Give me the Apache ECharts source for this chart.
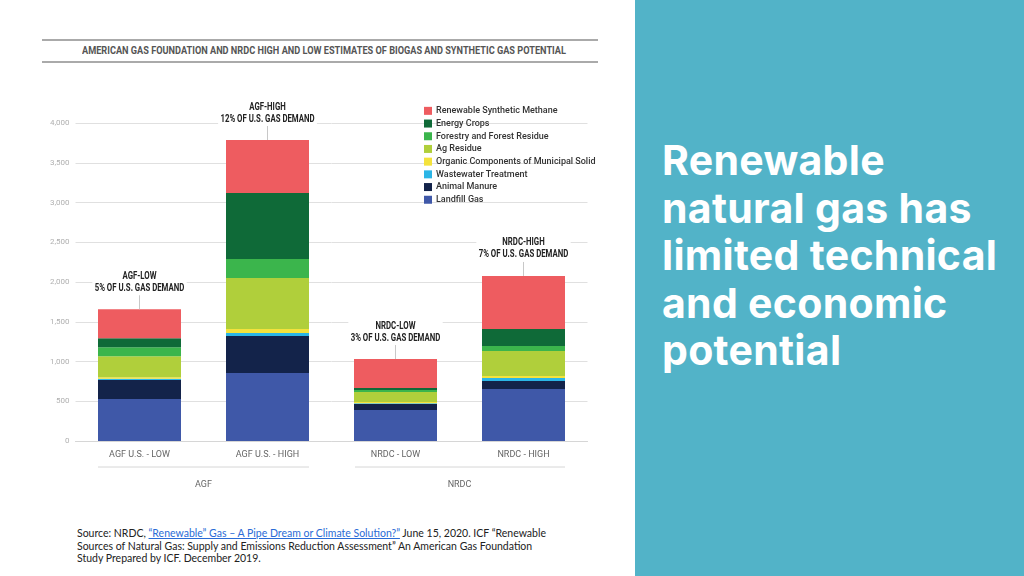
<!DOCTYPE html>
<html>
<head>
<meta charset="utf-8">
<script src="https://cdn.jsdelivr.net/npm/echarts@6/dist/echarts.min.js"></script>
<style>
  html, body { margin:0; padding:0; width:1024px; height:576px; background:#fff; overflow:hidden; }
  #header { position:absolute; left:42px; top:39px; width:556px; height:20px; border-top:2px solid #aaa; border-bottom:2px solid #aaa; overflow:hidden; }
  #header span { position:absolute; left:40px; top:0; white-space:nowrap; transform-origin:0 50%;
    font-family:Roboto,sans-serif; font-weight:bold; font-size:10.5px; color:#555; line-height:20px; }
  #chart { position:absolute; left:40px; top:35px; width:558px; height:480px; overflow:hidden; }
  #source { position:absolute; left:77px; top:527px; font-family:Lato,'Liberation Sans',sans-serif; font-size:10.5px; line-height:12.5px; color:#222; }
  #source a { color:#2a6bd6; text-decoration:underline; }
  #panel { position:absolute; left:635px; top:0; width:389px; height:576px; background:#52b3c8; }
  #headline { position:absolute; left:27px; top:137px; font-family:Inter,Roboto,sans-serif; font-weight:bold; font-size:41px; line-height:47.5px; color:#fff; letter-spacing:0.3px; }
</style>
</head>
<body>
<div id="header"><span id="htext">AMERICAN GAS FOUNDATION AND NRDC HIGH AND LOW ESTIMATES OF BIOGAS AND SYNTHETIC GAS POTENTIAL</span></div>
<div id="chart"></div>
<div id="source">Source: NRDC, <a>“Renewable” Gas – A Pipe Dream or Climate Solution?”</a> June 15, 2020. ICF “Renewable<br>Sources of Natural Gas: Supply and Emissions Reduction Assessment” An American Gas Foundation<br>Study Prepared by ICF. December 2019.</div>
<div id="panel"><div id="headline">Renewable<br>natural gas has<br>limited technical<br>and economic<br>potential</div></div>
<script>
// ---- data ----
const categories = ['AGF U.S. - LOW', 'AGF U.S. - HIGH', 'NRDC - LOW', 'NRDC - HIGH'];
const groups = ['AGF', 'NRDC'];
const annotTitles = ['AGF-LOW', 'AGF-HIGH', 'NRDC-LOW', 'NRDC-HIGH'];
const annotShares = ['5% OF U.S. GAS DEMAND', '12% OF U.S. GAS DEMAND', '3% OF U.S. GAS DEMAND', '7% OF U.S. GAS DEMAND'];
const yTicks = [0, 500, 1000, 1500, 2000, 2500, 3000, 3500, 4000];

const landfillGas      = [528, 855, 390, 654];
const animalManure     = [239, 465, 75, 100];
const wastewater       = [15, 38, 10, 38];
const organicMSW       = [20, 50, 15, 25];
const agResidue        = [264, 642, 126, 315];
const forestryResidue  = [113, 239, 25, 63];
const energyCrops      = [113, 830, 25, 214];
const synthMethane     = [365, 667, 365, 667];

const seriesDefs = [
  ['Landfill Gas', landfillGas, '#3f58a8'],
  ['Animal Manure', animalManure, '#13234a'],
  ['Wastewater Treatment', wastewater, '#2bb5e6'],
  ['Organic Components of Municipal Solid Waste', organicMSW, '#f4e23c'],
  ['Ag Residue', agResidue, '#b0cf3b'],
  ['Forestry and Forest Residue', forestryResidue, '#3bb54c'],
  ['Energy Crops', energyCrops, '#0f6a38'],
  ['Renewable Synthetic Methane', synthMethane, '#ee5c60']
];

// condense header text to the reference width
(function () {
  const s = document.getElementById('htext');
  const w = s.getBoundingClientRect().width;
  s.style.transform = 'scaleX(' + (484 / w) + ')';
})();

const totals = categories.map((c, i) => seriesDefs.reduce((s, d) => s + d[1][i], 0));
const lblFont = 'Roboto, sans-serif';

const chart = echarts.init(document.getElementById('chart'), null, { renderer: 'canvas' });
const series = seriesDefs.map(d => ({
  name: d[0], type: 'bar', stack: 'total', data: d[1], barWidth: 83,
  itemStyle: { color: d[2] }, emphasis: { disabled: true }
}));
series.push({
  name: 'annot', type: 'custom', silent: true, z: 5,
  data: totals.map((t, i) => [i, t]),
  encode: { x: 0, y: 1 },
  renderItem: function (params, api) {
    const i = api.value(0);
    const pt = api.coord([i, api.value(1)]);
    return {
      type: 'group',
      children: [
        { type: 'line', shape: { x1: pt[0], y1: pt[1] - 14, x2: pt[0], y2: pt[1] }, style: { stroke: '#c8c8c8', lineWidth: 1 } },
        { type: 'text', x: pt[0], y: pt[1] - 15, scaleX: 0.78,
          style: { text: annotTitles[i] + '\n' + annotShares[i], align: 'center', verticalAlign: 'bottom',
            font: 'bold 10px Roboto, sans-serif', lineHeight: 12, fill: '#222',
            backgroundColor: '#fff', padding: [0, 3] } }
      ]
    };
  }
});

chart.setOption({
  animation: false,
  legend: {
    orient: 'vertical', left: 379, top: 65, itemWidth: 8, itemHeight: 8, itemGap: 1, icon: 'rect',
    data: seriesDefs.map(d => d[0]).reverse(),
    textStyle: { fontFamily: lblFont, fontSize: 9, lineHeight: 11.7, color: '#333', fontWeight: 500, padding: [0, 0, 0, -1] },
    selectedMode: false
  },
  grid: { left: 35.5, top: 88, width: 512, height: 318 },
  xAxis: [{
    type: 'category', data: categories, axisTick: { show: false },
    axisLine: { show: true, lineStyle: { color: '#d6d6d6' } },
    axisLabel: { margin: 9.5, fontFamily: lblFont, fontSize: 9, color: '#666' }
  }, {
    type: 'category', data: groups, position: 'bottom', offset: 30,
    axisTick: { show: false }, axisLine: { show: false },
    axisLabel: { margin: 9.5, fontFamily: lblFont, fontSize: 9, color: '#666' }
  }],
  yAxis: {
    type: 'value', min: 0, max: 4000, interval: 500,
    axisLine: { show: false }, axisTick: { show: false },
    splitLine: { lineStyle: { color: '#e0e0e0' } },
    axisLabel: { margin: 6, fontFamily: lblFont, fontSize: 8, color: '#b0b0b0',
      formatter: v => yTicks.indexOf(v) >= 0 ? v.toLocaleString('en-US') : '' }
  },
  graphic: [
    { type: 'line', shape: { x1: 58, y1: 432, x2: 269, y2: 432 }, style: { stroke: '#d6d6d6', lineWidth: 1 } },
    { type: 'line', shape: { x1: 315, y1: 432, x2: 525, y2: 432 }, style: { stroke: '#d6d6d6', lineWidth: 1 } }
  ],
  series: series
});
</script>
</body>
</html>
